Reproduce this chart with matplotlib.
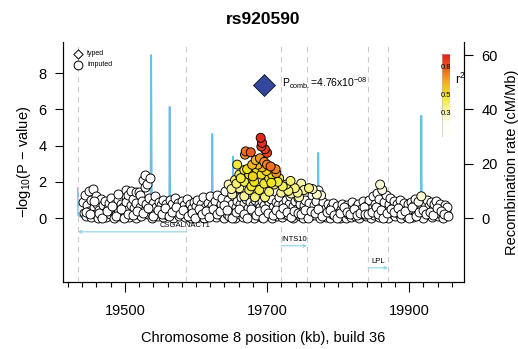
import numpy as np
import matplotlib.pyplot as plt
from matplotlib.colors import LinearSegmentedColormap

plt.rcParams['font.family'] = ['Liberation Sans', 'DejaVu Sans']
plt.rcParams['mathtext.fontset'] = 'custom'
plt.rcParams['mathtext.rm'] = 'Liberation Sans'
plt.rcParams['mathtext.it'] = 'Liberation Sans:italic'

# low-LD SNPs (white), position in kb and -log10 p
bg_kb = [19441, 19443, 19444, 19446, 19447, 19449, 19450, 19452, 19453, 19455, 19456, 19458, 19459, 19461,
         19462, 19464, 19466, 19467, 19469, 19471, 19472, 19474, 19476, 19478, 19479, 19481, 19483, 19485,
         19486, 19488, 19490, 19491, 19493, 19495, 19497, 19498, 19490,
         19500, 19501, 19502, 19503, 19505, 19506, 19508, 19509, 19510, 19511, 19513, 19515, 19515, 19516,
         19518, 19520, 19521, 19521, 19523, 19524, 19526, 19527, 19528, 19529, 19530, 19531, 19532, 19534,
         19535, 19536, 19538, 19539, 19541, 19543, 19544, 19546, 19548, 19549, 19551, 19553, 19554, 19556,
         19558, 19559,
         19561, 19563, 19565, 19566, 19568, 19570, 19571, 19573, 19575, 19576, 19578, 19580, 19581, 19583,
         19585, 19587, 19588, 19590, 19592, 19593, 19595, 19597, 19598, 19600, 19602, 19603, 19605, 19607,
         19608, 19610, 19612, 19613, 19615, 19617, 19618, 19620, 19622, 19623, 19625, 19627, 19628, 19630,
         19632, 19633, 19635, 19637, 19638, 19640,
         19641, 19642, 19644, 19645, 19647, 19649, 19651, 19652, 19654, 19655, 19657, 19658, 19660,
         19662, 19663, 19665, 19666, 19668, 19670, 19671, 19673, 19675, 19676, 19678, 19680, 19681, 19683,
         19685, 19686, 19688, 19690, 19691, 19693, 19695, 19696, 19698, 19699,
         19701, 19703, 19704, 19706, 19707, 19709, 19711, 19712, 19714, 19716, 19717, 19719, 19721, 19722,
         19724, 19726, 19727, 19729, 19731, 19732, 19734, 19736, 19737, 19739, 19741, 19742, 19744, 19746,
         19747, 19749, 19751, 19752, 19754, 19756, 19757, 19759, 19761, 19763, 19764, 19766, 19768, 19769,
         19771, 19773, 19774, 19776, 19778, 19779,
         19781, 19783, 19785, 19786, 19788, 19790, 19792, 19793, 19795, 19797, 19799, 19800, 19802, 19804,
         19806, 19807, 19809, 19811, 19813, 19814, 19816, 19818, 19820, 19821, 19823, 19825, 19827, 19828,
         19830, 19832, 19834, 19835, 19837, 19839,
         19841, 19843, 19844, 19846, 19847, 19849, 19851, 19852, 19854, 19855, 19857, 19858, 19861,
         19864, 19865, 19867, 19868, 19870, 19872, 19873, 19875, 19877, 19878, 19880, 19882, 19883, 19885,
         19887, 19888, 19890, 19892, 19893, 19895, 19897, 19898,
         19900, 19902, 19903, 19905, 19907, 19908, 19910, 19912, 19915, 19918, 19920, 19922, 19923,
         19925, 19927, 19928, 19930, 19932, 19933, 19935, 19937, 19938, 19940, 19942, 19943, 19945, 19947,
         19948, 19950, 19952, 19953]
bg_logp = [0.9, 0.3, 1.3, 0.1, 0.7, 1.5, 0.4, 1.0, 0.05, 1.6, 0.6, 0.2, 1.2, 0.8,
           0.0, 0.45, 1.05, 0.15, 0.7, 0.3, 0.95, 0.05, 0.55, 0.85, 0.2, 1.1, 0.4, 0.0,
           0.75, 0.25, 1.0, 0.5, 0.1, 0.8, 0.35, 0.6, 1.35,
           0.15, 1.55, 0.9, 0.45, 1.3, 0.05, 0.7, 1.5, 0.3, 1.05, 0.55, 0.0, 1.45, 0.85,
           0.25, 1.45, 0.6, 1.3, 0.1, 0.95, 2.1, 0.4, 2.35, 1.7, 0.75, 1.9, 0.2, 1.1,
           2.2, 0.5, 0.0, 0.85, 0.3, 1.2, 0.6, 0.1, 0.9, 0.4, 0.7, 0.05, 1.0, 0.35,
           0.8, 0.15,
           0.5, 1.0, 0.2, 0.75, 0.0, 0.45, 1.1, 0.3, 0.85, 0.1, 0.6, 0.95, 0.25, 0.7,
           0.05, 0.5, 1.05, 0.3, 0.8, 0.0, 0.55, 0.9, 0.2, 0.65, 1.0, 0.35, 0.1, 0.75,
           0.45, 1.15, 0.0, 0.6, 0.25, 0.85, 0.5, 1.2, 0.15, 0.7, 0.35, 0.95, 0.05, 1.3,
           0.55, 0.2, 0.8, 1.1, 0.4, 0.0,
           1.5, 0.65, 0.25, 1.0, 0.1, 0.5, 0.8, 0.3, 1.2, 0.0, 0.6, 0.95, 0.2,
           0.75, 1.15, 0.4, 0.05, 0.85, 0.3, 1.05, 0.55, 0.1, 0.9, 0.35, 0.7, 0.0, 1.0,
           0.45, 0.2, 0.8, 0.6, 0.05, 0.95, 0.3, 0.7, 0.15, 1.1,
           0.5, 0.85, 0.2, 1.05, 0.0, 0.6, 0.35, 0.9, 0.1, 0.7, 1.15, 0.4, 0.05, 0.8,
           0.25, 1.0, 0.55, 0.15, 0.75, 1.2, 0.3, 0.0, 0.65, 0.95, 0.2, 0.5, 1.1, 0.1,
           0.8, 0.4, 0.0, 0.7, 1.0, 0.25, 0.55, 0.85, 0.1, 1.3, 0.45, 0.7, 0.15, 0.95,
           1.55, 0.35, 0.0, 0.6, 0.9, 0.2,
           0.5, 0.05, 0.75, 0.3, 0.0, 0.6, 0.2, 0.85, 0.4, 0.1, 0.65, 0.3, 0.0, 0.5,
           0.8, 0.15, 0.45, 0.0, 0.7, 0.25, 0.55, 0.05, 0.9, 0.35, 0.1, 0.6, 0.3, 0.8,
           0.0, 0.5, 0.2, 0.95, 0.4, 0.1,
           0.7, 1.0, 0.3, 0.0, 0.55, 1.2, 0.15, 0.8, 1.4, 0.4, 0.05, 1.05, 0.6,
           0.2, 0.9, 1.3, 0.45, 0.0, 0.75, 1.1, 0.3, 0.6, 0.95, 0.1, 0.5, 0.8, 0.25,
           1.0, 0.0, 0.6, 0.35, 0.85, 0.1, 0.5, 0.75,
           0.2, 0.9, 0.45, 0.05, 0.7, 1.05, 0.3, 0.55, 0.15, 0.6, 0.0, 0.8, 0.4,
           1.0, 0.2, 0.65, 0.9, 0.05, 0.5, 0.75, 0.3, 0.95, 0.1, 0.6, 0.8, 0.25, 0.5,
           0.0, 0.7, 0.35, 0.6]

# more low-LD SNPs filling the lower band
bg2_kb = [19445, 19451, 19457, 19463, 19468, 19475, 19482, 19487, 19494, 19499,
          19504, 19512, 19517, 19525, 19533, 19540, 19547, 19552, 19557,
          19562, 19567, 19572, 19577, 19582, 19589, 19594, 19599, 19604, 19609,
          19614, 19619, 19624, 19629, 19634, 19639,
          19643, 19650, 19656, 19661, 19667, 19672, 19677, 19684, 19689, 19694, 19697,
          19702, 19708, 19713, 19718, 19723, 19728, 19733, 19738, 19743, 19748,
          19753, 19758, 19762, 19767, 19772, 19777,
          19784, 19789, 19794, 19798, 19803, 19808, 19812, 19817, 19822, 19826,
          19831, 19836, 19838,
          19842, 19848, 19853, 19856, 19860, 19863, 19869, 19874, 19879, 19884,
          19889, 19894, 19899,
          19904, 19909, 19914, 19919, 19924, 19929, 19934, 19939, 19944, 19949, 19954]
bg2_logp = [0.35, 0.2, 0.95, 0.3, 0.0, 0.4, 0.65, 0.1, 0.5, 0.0,
            0.25, 0.15, 0.4, 0.3, 0.55, 0.1, 0.45, 0.25, 0.55,
            0.1, 0.35, 0.6, 0.25, 0.45, 0.1, 0.3, 0.0, 0.5, 0.2,
            0.4, 0.05, 0.5, 0.25, 0.4, 0.7,
            0.45, 0.0, 0.35, 0.5, 0.25, 0.0, 0.5, 0.15, 0.4, 0.0, 0.5,
            0.3, 0.15, 0.45, 0.2, 0.55, 0.35, 0.05, 0.4, 0.3, 0.2,
            0.45, 0.0, 0.4, 0.3, 0.5, 0.1,
            0.35, 0.45, 0.15, 0.0, 0.3, 0.6, 0.35, 0.2, 0.5, 0.15,
            0.3, 0.6, 0.25,
            0.2, 0.35, 0.6, 0.25, 0.45, 0.0, 0.3, 0.5, 0.35, 0.55,
            0.2, 0.4, 0.0,
            0.6, 0.1, 0.35, 0.45, 0.25, 0.35, 0.15, 0.55, 0.4, 0.2, 0.1]

# SNPs in LD with the lead SNP
ld_kb = [19691, 19693, 19692, 19700, 19697, 19670, 19677, 19669, 19690, 19679, 19705, 19712, 19713,
         19700, 19693, 19658, 19686, 19668, 19661, 19675, 19692, 19703, 19717, 19655, 19668, 19682,
         19696, 19710, 19727, 19739, 19752, 19759, 19661, 19675, 19689, 19703, 19720, 19734, 19651,
         19668, 19683, 19697, 19745, 19770, 19646, 19859, 19862, 19913, 19917, 19764, 19776,
         19663, 19672, 19680, 19687, 19699, 19707, 19715, 19722, 19730, 19743, 19650, 19657, 19678,
         19706, 19748, 19733, 19684, 19696]
ld_logp = [4.43, 4.15, 3.95, 3.6, 3.8, 3.68, 3.63, 3.5, 3.3, 2.94, 2.85, 2.7, 2.48,
           2.95, 2.8, 2.95, 2.65, 2.65, 2.4, 2.4, 2.4, 2.2, 2.2, 2.1, 2.0, 2.0,
           1.9, 1.85, 1.85, 1.65, 1.55, 1.65, 1.65, 1.55, 1.55, 1.45, 1.4, 1.35, 1.3,
           1.2, 1.15, 1.15, 1.15, 1.3, 1.85, 1.85, 1.55, 0.9, 1.2, 1.6, 1.25,
           2.2, 2.7, 2.3, 2.95, 2.6, 2.4, 2.0, 1.75, 1.5, 1.4, 1.6, 1.9, 1.75,
           1.95, 1.9, 2.05, 3.2, 3.1]
ld_r2 = [0.92, 0.9, 0.88, 0.86, 0.87, 0.75, 0.8, 0.7, 0.68, 0.62, 0.76, 0.72, 0.7,
         0.72, 0.6, 0.46, 0.5, 0.45, 0.42, 0.5, 0.52, 0.5, 0.45, 0.4, 0.45, 0.5,
         0.48, 0.42, 0.4, 0.38, 0.35, 0.38, 0.35, 0.42, 0.45, 0.4, 0.35, 0.32, 0.3,
         0.35, 0.4, 0.38, 0.3, 0.28, 0.3, 0.25, 0.22, 0.2, 0.25, 0.28, 0.22,
         0.45, 0.5, 0.55, 0.6, 0.55, 0.5, 0.45, 0.42, 0.38, 0.35, 0.35, 0.4, 0.48,
         0.5, 0.32, 0.4, 0.62, 0.7]

lead_kb = 19695
lead_p = 4.76e-08

# recombination rate (cM/Mb)
rec_kb = [19434, 19434.6, 19437, 19450, 19480, 19510, 19530, 19536, 19537, 19538, 19550, 19562.3, 19563,
          19563.7, 19590, 19610, 19622.3, 19623, 19623.7, 19640, 19651.3, 19652, 19652.7, 19680, 19720,
          19760, 19771.3, 19772, 19772.7, 19800, 19850, 19900, 19916.3, 19917, 19917.7, 19940, 19955]
rec_rate = [11, 1.0, 0.6, 0.3, 0.8, 1.2, 0.5, 1.5, 60, 0.4, 1.0, 0.8, 41,
            0.7, 0.3, 0.9, 0.6, 31, 0.5, 1.2, 0.4, 22.6, 0.8, 0.2, 0.5,
            1.0, 0.7, 24, 0.6, 0.9, 0.4, 0.5, 0.8, 37.7, 0.5, 0.3, 0.6]

genes = ['CSGALNACT1', 'INTS10', 'LPL']
gene_start = [19434, 19720, 19842]
gene_end = [19586, 19756, 19870]
gene_strand = [-1, 1, 1]
gene_row = [-0.76, -1.53, -2.75]
gene_label_x = [19584, 19738, 19856]

cmap = LinearSegmentedColormap.from_list('ld', [(0.0, '#FFFFFF'), (0.2, '#FFFFF2'), (0.35, '#F8F59A'),
                                                 (0.5, '#EFE51A'), (0.65, '#F3A928'), (0.8, '#EC5A1E'),
                                                 (0.95, '#E01B1B'), (1.0, '#D41010')])

fig = plt.figure(figsize=(5.18, 3.49), dpi=100)
ax = fig.add_axes([0.1216, 0.192, 0.7742, 0.6877])
ax2 = ax.twinx()
ax.set_zorder(ax2.get_zorder() + 1)
ax.patch.set_visible(False)

ylo, yhi = -3.53, 9.72
k = 6.67
ax.set_ylim(ylo, yhi)
ax2.set_ylim(ylo * k, yhi * k)
ax.set_xlim(19413, 19977)

# gene boundaries
for b in gene_start + gene_end:
    ax.axvline(b, color='#CCCCCC', lw=0.8, ls=(0, (5, 4)), zorder=0)

ax2.plot(rec_kb, rec_rate, color='#6CC0E5', lw=1.3)

ax.scatter(bg_kb + bg2_kb, bg_logp + bg2_logp, s=42, c='white', edgecolors='black',
           linewidths=0.65, zorder=3)
order = np.argsort(ld_r2, kind='stable')
ax.scatter(np.array(ld_kb)[order], np.array(ld_logp)[order], s=42, c=np.array(ld_r2)[order],
           cmap=cmap, vmin=0, vmax=1, edgecolors='black', linewidths=0.65, zorder=4)

lead_logp = -np.log10(lead_p)
ax.scatter([lead_kb], [lead_logp], marker='D', s=125, c='#33479C', edgecolors='black',
           linewidths=0.5, zorder=5)
ax.text(19721, lead_logp + 0.12, r'P$_{\rm comb.}$=4.76x10$^{-08}$', fontsize=7.5, va='center', ha='left')

for g, s0, s1, st, row, lx in zip(genes, gene_start, gene_end, gene_strand, gene_row, gene_label_x):
    a, b = (s1, s0) if st < 0 else (s0, s1)
    ax.annotate('', xy=(b, row), xytext=(a, row),
                arrowprops=dict(arrowstyle='->', color='#8FD3E8', lw=0.8, shrinkA=0, shrinkB=0,
                                mutation_scale=5))
    ax.text(lx, row + 0.33, g, fontsize=5.5, ha='center', va='center')

# typed / imputed key
ax.scatter([0.037], [0.952], marker='D', s=22, facecolors='white', edgecolors='black', linewidths=0.7,
           transform=ax.transAxes, clip_on=False, zorder=6)
ax.scatter([0.037], [0.905], marker='o', s=40, facecolors='white', edgecolors='black', linewidths=0.7,
           transform=ax.transAxes, clip_on=False, zorder=6)
ax.text(0.06, 0.952, 'typed', fontsize=5, va='center', transform=ax.transAxes)
ax.text(0.06, 0.905, 'imputed', fontsize=5, va='center', transform=ax.transAxes)

# axes styling
ax.spines['top'].set_visible(False)
ax2.spines['top'].set_visible(False)
ax.set_yticks([0, 2, 4, 6, 8])
ax2.set_yticks([0, 20, 40, 60])
ax.set_xticks([19500, 19700, 19900])
ax.set_xticks(range(19420, 19961, 20), minor=True)
ax.tick_params(axis='x', which='major', length=7, width=0.8, labelsize=10.5, pad=9)
ax.tick_params(axis='x', which='minor', length=3.5, width=0.8)
ax.tick_params(axis='y', length=6, width=0.8, labelsize=10.5, pad=6)
ax2.tick_params(axis='y', length=6.5, width=0.8, labelsize=10.5, pad=6)
for sp in ['left', 'bottom']:
    ax.spines[sp].set_linewidth(0.8)
ax2.spines['right'].set_linewidth(0.8)

ax.set_xlabel('Chromosome 8 position (kb), build 36', fontsize=10.5, labelpad=9)
ax.set_ylabel(r'$-$log$_{10}$(P $-$ value)', fontsize=10.5, labelpad=4)
ax2.set_ylabel('Recombination rate (cM/Mb)', fontsize=10.5, labelpad=5)
fig.suptitle('rs920590', fontsize=12.5, fontweight='bold', x=0.508, y=0.965)

# r2 colour key
cax = fig.add_axes([442 / 518, 1 - 137 / 349, 8 / 518, 83 / 349])
grad = np.linspace(0.05, 0.94, 200).reshape(-1, 1)
cax.imshow(grad, aspect='auto', cmap=cmap, vmin=0, vmax=1, origin='lower', extent=[0, 1, 0.05, 0.94])
cax.set_xlim(0, 1)
cax.set_ylim(0.05, 0.94)
cax.axis('off')
cax.add_patch(plt.Rectangle((0, 0.05), 1, 0.89, fill=False, ec='#BBBBBB', lw=0.4))
for v in [0.8, 0.5, 0.3]:
    cax.text(0.5, v, str(v), fontsize=5.5, ha='center', va='center')
fig.text(455 / 518, 1 - 79 / 349, r'r$^2$', fontsize=9, va='center')

fig.savefig('out.png', dpi=100)
